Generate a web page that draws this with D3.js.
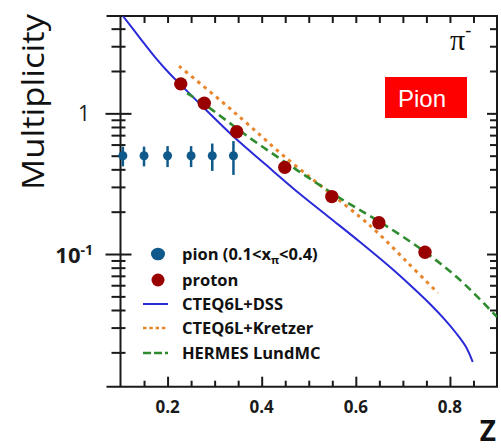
<!DOCTYPE html>
<html>
<head>
<meta charset="utf-8">
<script src="https://cdn.jsdelivr.net/npm/d3@7/dist/d3.min.js"></script>
<style>
  html, body { margin: 0; padding: 0; background: #fff; }
  svg { display: block; }
</style>
</head>
<body>
<svg id="chart" width="501" height="448"></svg>
<script>
// ---- data ----
const pionZ   = [0.105, 0.15, 0.2, 0.25, 0.295, 0.34];
const pionM   = [0.5, 0.5, 0.5, 0.5, 0.5, 0.5];
const pionErr = [0.08, 0.08, 0.085, 0.085, 0.11, 0.135];

const protonZ = [0.228, 0.278, 0.347, 0.449, 0.549, 0.649, 0.747];
const protonM = [1.62, 1.18, 0.74, 0.413, 0.256, 0.167, 0.103];

const dssZ = [0.1055, 0.1414, 0.1733, 0.2052, 0.2286, 0.2689, 0.3412, 0.4071, 0.4814, 0.5452, 0.6089, 0.6727, 0.7152, 0.7577, 0.7896, 0.8129, 0.8342, 0.8484];
const dssM = [4.9, 3.429, 2.513, 1.903, 1.589, 1.165, 0.6785, 0.4362, 0.2669, 0.1803, 0.1217, 0.0808, 0.0602, 0.0441, 0.034, 0.02745, 0.02183, 0.01708];

const kretzerZ = [0.2243, 0.3114, 0.3752, 0.4496, 0.5452, 0.609, 0.6451, 0.7089, 0.7747];
const kretzerM = [2.169, 1.243, 0.8124, 0.489, 0.2714, 0.1832, 0.1433, 0.0877, 0.0528];

const hermesZ = [0.2413, 0.2774, 0.3752, 0.475, 0.5728, 0.6514, 0.747, 0.8214, 0.9];
const hermesM = [1.394, 1.165, 0.6676, 0.3953, 0.2421, 0.169, 0.1034, 0.0654, 0.0357];

const xTicks = [0.2, 0.4, 0.6, 0.8];
const xTickLabels = ["0.2", "0.4", "0.6", "0.8"];
const legendLabels = ["pion", "proton", "CTEQ6L+DSS", "CTEQ6L+Kretzer", "HERMES LundMC"];

// ---- styling ----
const C = {
  axis: "#1a1a1a",
  pion: "#0f5a8a",
  proton: "#990000",
  dss: "#2a2ad8",
  kretzer: "#e8862c",
  hermes: "#2e8b2e",
  box: "#ff0000"
};

const svg = d3.select("#chart");
const x = d3.scaleLinear().domain([0.1, 0.9]).range([120.5, 497]);
const y = d3.scaleLog().domain([0.0114, 4.92]).range([386.7, 16]);
const [X0, X1] = x.range();
const [Y0, Y1] = y.range();

svg.append("defs").append("clipPath").attr("id", "plot")
  .append("rect").attr("x", X0).attr("y", Y1).attr("width", X1 - X0).attr("height", Y0 - Y1);

// ---- axes / ticks ----
const minorX = d3.range(3, 18).map(i => +(i * 0.05).toFixed(2)).filter(v => !xTicks.includes(v));
const logTicks = [];
[0.01, 0.1, 1].forEach(dec => { for (let k = 1; k <= 9; k++) { const v = +(k * dec).toPrecision(3); if (v >= 0.0114 && v <= 4.92) logTicks.push(v); } });
const majorY = [0.1, 1];
const minorY = logTicks.filter(v => !majorY.includes(v));

function styleAxis(g) {
  g.select(".domain").remove();
  g.selectAll(".tick line").attr("stroke", C.axis).attr("stroke-width", 2);
  g.selectAll(".tick text").remove();
}

// bottom: inward ticks
svg.append("g").attr("transform", `translate(0,${Y0})`).call(d3.axisTop(x).tickValues(xTicks).tickSize(10)).call(styleAxis);
svg.append("g").attr("transform", `translate(0,${Y0})`).call(d3.axisTop(x).tickValues(minorX).tickSize(6)).call(styleAxis);
// top: inward ticks
svg.append("g").attr("transform", `translate(0,${Y1})`).call(d3.axisBottom(x).tickValues(xTicks.concat(minorX)).tickSize(7)).call(styleAxis);
// left: ticks crossing the axis
svg.append("g").attr("transform", `translate(${X0},0)`).call(d3.axisLeft(y).tickValues(majorY).tickSize(15)).call(styleAxis);
svg.append("g").attr("transform", `translate(${X0},0)`).call(d3.axisRight(y).tickValues(majorY).tickSize(11)).call(styleAxis);
svg.append("g").attr("transform", `translate(${X0},0)`).call(d3.axisLeft(y).tickValues(minorY).tickSize(9)).call(styleAxis);
svg.append("g").attr("transform", `translate(${X0},0)`).call(d3.axisRight(y).tickValues(minorY).tickSize(5)).call(styleAxis);
// right: inward ticks
svg.append("g").attr("transform", `translate(${X1},0)`).call(d3.axisLeft(y).tickValues(majorY).tickSize(10)).call(styleAxis);
svg.append("g").attr("transform", `translate(${X1},0)`).call(d3.axisLeft(y).tickValues(minorY).tickSize(7)).call(styleAxis);

// frame
const frame = svg.append("g").attr("stroke", C.axis).attr("stroke-width", 2).attr("fill", "none");
frame.append("line").attr("x1", X0 - 14).attr("x2", X1 + 1).attr("y1", Y1).attr("y2", Y1);
frame.append("line").attr("x1", X0 - 14).attr("x2", X1 + 1).attr("y1", Y0).attr("y2", Y0);
frame.append("line").attr("x1", X0).attr("x2", X0).attr("y1", Y1).attr("y2", Y0);
frame.append("line").attr("x1", X1).attr("x2", X1).attr("y1", Y1).attr("y2", Y0);

// x tick labels
svg.append("g").selectAll("text").data(xTicks).join("text")
  .attr("x", d => x(d)).attr("y", 413)
  .attr("text-anchor", "middle")
  .attr("font-family", "'Open Sans', sans-serif").attr("font-weight", "bold").attr("font-size", 17)
  .attr("fill", C.axis)
  .text((d, i) => xTickLabels[i]);

// y tick labels
svg.append("text").attr("x", 90).attr("y", y(1) + 8).attr("text-anchor", "end")
  .attr("font-family", "'Open Sans', sans-serif").attr("font-size", 21).attr("fill", C.axis).text("1");
const t01 = svg.append("text").attr("x", 93).attr("y", y(0.1) + 9).attr("text-anchor", "end")
  .attr("font-family", "'Open Sans', sans-serif").attr("font-weight", "bold").attr("font-size", 22).attr("fill", C.axis);
t01.append("tspan").text("10");
t01.append("tspan").attr("font-size", 14).attr("dy", -8).text("-1");

// axis titles
svg.append("text").attr("transform", `translate(44,102) rotate(-90)`).attr("text-anchor", "middle")
  .attr("font-family", "'Open Sans', sans-serif").attr("font-size", 31).attr("fill", "#111")
  .attr("textLength", 176).attr("lengthAdjust", "spacingAndGlyphs")
  .text("Multiplicity");
svg.append("text").attr("x", 496).attr("y", 441).attr("text-anchor", "end")
  .attr("font-family", "'Open Sans', sans-serif").attr("font-weight", "bold").attr("font-size", 28).attr("fill", "#111")
  .text("Z");

// pi- label
const piT = svg.append("text").attr("x", 450).attr("y", 50)
  .attr("font-family", "'Liberation Serif', serif").attr("font-size", 30).attr("fill", "#111");
piT.append("tspan").text("π");
piT.append("tspan").attr("font-size", 18).attr("dy", -14).text("-");

// red "Pion" box
svg.append("rect").attr("x", 385).attr("y", 77).attr("width", 82).attr("height", 41).attr("fill", C.box);
svg.append("text").attr("x", 398).attr("y", 107)
  .attr("font-family", "'Liberation Sans', Arial, sans-serif").attr("font-size", 24).attr("fill", "#fff")
  .text("Pion");

// ---- curves ----
const line = d3.line().x(d => x(d[0])).y(d => y(d[1])).curve(d3.curveCatmullRom.alpha(0.5));
const curves = svg.append("g").attr("clip-path", "url(#plot)").attr("fill", "none");
curves.append("path").datum(dssZ.map((z, i) => [z, dssM[i]]))
  .attr("d", line).attr("stroke", C.dss).attr("stroke-width", 2);
curves.append("path").datum(kretzerZ.map((z, i) => [z, kretzerM[i]]))
  .attr("d", line).attr("stroke", C.kretzer).attr("stroke-width", 3).attr("stroke-dasharray", "3.5,4.5");
curves.append("path").datum(hermesZ.map((z, i) => [z, hermesM[i]]))
  .attr("d", line).attr("stroke", C.hermes).attr("stroke-width", 2.6).attr("stroke-dasharray", "8,5");

// ---- points ----
const pts = svg.append("g");
pts.selectAll("line.err").data(pionZ).join("line").attr("class", "err")
  .attr("x1", d => x(d)).attr("x2", d => x(d))
  .attr("y1", (d, i) => y(pionM[i] + pionErr[i])).attr("y2", (d, i) => y(pionM[i] - pionErr[i]))
  .attr("stroke", C.pion).attr("stroke-width", 2.5);
pts.selectAll("circle.pion").data(pionZ).join("circle").attr("class", "pion")
  .attr("cx", d => x(d)).attr("cy", (d, i) => y(pionM[i])).attr("r", 4.5).attr("fill", C.pion);
pts.selectAll("circle.proton").data(protonZ).join("circle").attr("class", "proton")
  .attr("cx", d => x(d)).attr("cy", (d, i) => y(protonM[i])).attr("r", 6.7).attr("fill", C.proton);

// ---- legend ----
const lg = svg.append("g").attr("font-family", "'Open Sans', sans-serif").attr("font-weight", "bold")
  .attr("font-size", 16.5).attr("fill", "#111");
const rowY = [254, 280, 304, 328, 353];
lg.append("ellipse").attr("cx", 158).attr("cy", rowY[0]).attr("rx", 7).attr("ry", 6.3).attr("fill", C.pion);
lg.append("circle").attr("cx", 158).attr("cy", rowY[1]).attr("r", 6.5).attr("fill", C.proton);
lg.append("line").attr("x1", 143).attr("x2", 168).attr("y1", rowY[2]).attr("y2", rowY[2]).attr("stroke", C.dss).attr("stroke-width", 2);
lg.append("line").attr("x1", 143).attr("x2", 168).attr("y1", rowY[3]).attr("y2", rowY[3]).attr("stroke", C.kretzer).attr("stroke-width", 2.5).attr("stroke-dasharray", "3.5,2.8");
lg.append("line").attr("x1", 143).attr("x2", 168).attr("y1", rowY[4]).attr("y2", rowY[4]).attr("stroke", C.hermes).attr("stroke-width", 2.5).attr("stroke-dasharray", "8,3");

const t0 = lg.append("text").attr("x", 182).attr("y", rowY[0] + 6);
t0.append("tspan").text(legendLabels[0] + " (0.1<x");
t0.append("tspan").attr("font-size", 11).attr("dy", 4).text("π");
t0.append("tspan").attr("dy", -4).text("<0.4)");
legendLabels.slice(1).forEach((s, i) => {
  lg.append("text").attr("x", 182).attr("y", rowY[i + 1] + 6).text(s);
});
</script>
</body>
</html>
